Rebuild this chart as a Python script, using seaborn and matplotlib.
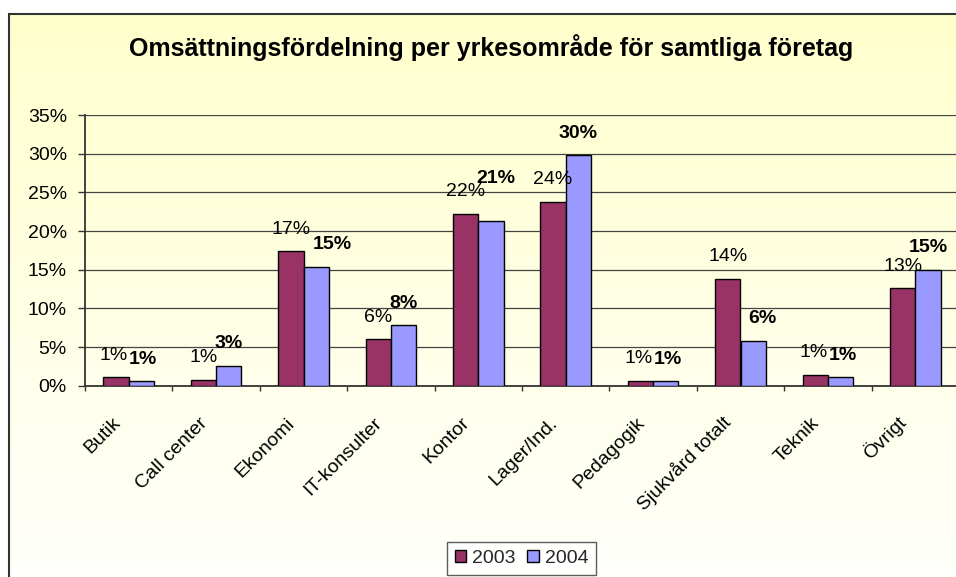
import numpy as np
import pandas as pd
import matplotlib
matplotlib.use("Agg")
import matplotlib.pyplot as plt
from matplotlib.patches import Rectangle
from matplotlib.ticker import FuncFormatter, MultipleLocator, FixedLocator
from matplotlib.transforms import ScaledTranslation
import seaborn as sns

categories = ["Butik", "Call center", "Ekonomi", "IT-konsulter", "Kontor",
              "Lager/Ind.", "Pedagogik", "Sjukvård totalt", "Teknik", "Övrigt"]
values_2003 = [1.1, 0.8, 17.4, 6.0, 22.2, 23.8, 0.65, 13.8, 1.4, 12.6]
values_2004 = [0.6, 2.6, 15.4, 7.8, 21.3, 29.8, 0.55, 5.8, 1.1, 15.0]
series = ["2003", "2004"]
colors = ["#993366", "#9999FF"]
title = "Omsättningsfördelning per yrkesområde för samtliga företag"

# manual label nudges (pixels) as in the reference, to avoid overlaps
label_nudge = {("2004", "Ekonomi"): (16, 0), ("2004", "Kontor"): (5, 20),
               ("2004", "Sjukvård totalt"): (9, 0),
               ("2003", "Butik"): (-2, 0), ("2004", "Butik"): (2, 0),
               ("2003", "Pedagogik"): (-2, 0), ("2004", "Pedagogik"): (2, 0),
               ("2003", "Teknik"): (-2, 0), ("2004", "Teknik"): (2, 0)}

df = pd.DataFrame({
    "cat": categories * 2,
    "val": values_2003 + values_2004,
    "year": [series[0]] * len(categories) + [series[1]] * len(categories),
})

sns.set_theme(style="white")
plt.rcParams["font.family"] = ["Liberation Sans", "DejaVu Sans"]

W, H = 956, 577
PX = 72 / 100  # points per pixel
fig = plt.figure(figsize=(W / 100, H / 100), dpi=100)
fig.patch.set_facecolor("white")

# chart-area background gradient + frame
bg = fig.add_axes([9 / W, 0, 1 - 9 / W, 1 - 14 / H], zorder=-5)
grad = np.linspace(0, 1, 256)[:, None]
top = np.array([255, 255, 204]) / 255
bot = np.array([255, 255, 252]) / 255
img = top[None, None, :] * (1 - grad[..., None]) + bot[None, None, :] * grad[..., None]
bg.imshow(img, aspect="auto", extent=[0, 1, 0, 1])
bg.set_axis_off()
fig.add_artist(Rectangle((9 / W, -0.1), 1.2, 1 - 14 / H + 0.1, transform=fig.transFigure,
                         fill=False, edgecolor="#333333", linewidth=1.5, zorder=-4))

ax = fig.add_axes([85 / W, 191.3 / H, 874 / W, 270.7 / H])
ax.set_facecolor("none")

sns.barplot(data=df, x="cat", y="val", hue="year", palette=colors, ax=ax,
            width=0.58, edgecolor="black", linewidth=1.0, saturation=1, zorder=3)

ax.set_ylim(0, 35)
ax.set_xlim(-0.5, len(categories) - 0.5)
ax.yaxis.set_major_locator(MultipleLocator(5))
ax.yaxis.set_major_formatter(FuncFormatter(lambda v, p: f"{v:.0f}%"))
ax.grid(axis="y", color="#444444", linewidth=0.9, zorder=0)
ax.set_axisbelow(True)
ax.set_xlabel("")
ax.set_ylabel("")

for s in ["top", "right"]:
    ax.spines[s].set_visible(False)
for s in ["left", "bottom"]:
    ax.spines[s].set_color("#333333")
    ax.spines[s].set_linewidth(1.3)

ax.tick_params(axis="y", which="major", left=True, length=7 * PX, width=1, color="#333333",
               labelsize=14, pad=8, labelcolor="black")
ax.set_xticks(range(len(categories)))
ax.set_xticklabels(categories, rotation=45, ha="right", va="baseline",
                   rotation_mode="anchor", fontsize=14, color="black")
ax.tick_params(axis="x", which="major", length=0, pad=38 * PX)
shift = ScaledTranslation(-8 / 100, 0, fig.dpi_scale_trans)
for lbl in ax.get_xticklabels():
    lbl.set_transform(lbl.get_transform() + shift)
ax.xaxis.set_minor_locator(FixedLocator(np.arange(-0.5, len(categories), 1.0)))
ax.tick_params(axis="x", which="minor", bottom=True, length=5 * PX, width=1, color="#333333")

for cont, year, weight in zip(ax.containers, series, ["normal", "bold"]):
    for bar, cat in zip(cont, categories):
        h = bar.get_height()
        dx, dy = label_nudge.get((year, cat), (0, 0))
        ax.annotate(f"{h:.0f}%", xy=(bar.get_x() + bar.get_width() / 2, h),
                    xytext=(dx * PX, (22 + dy) * PX), textcoords="offset points",
                    ha="center", va="center", fontsize=14, fontweight=weight,
                    color="black", annotation_clip=False, zorder=5)

leg = ax.legend(loc="upper center", bbox_to_anchor=(521.5 / W, 35 / H),
                bbox_transform=fig.transFigure, ncol=2, fontsize=14, frameon=True,
                fancybox=False, edgecolor="#333333", handlelength=0.6, handleheight=0.6,
                handletextpad=0.3, columnspacing=0.6, borderpad=0.4, borderaxespad=0)
leg.get_frame().set_facecolor("white")
leg.get_frame().set_linewidth(1.0)
for h in leg.legend_handles:
    h.set_edgecolor("black")
    h.set_linewidth(1.0)

fig.text(491 / W, 1 - 48 / H, title, ha="center", va="center",
         fontsize=18, fontweight="bold", color="black")

fig.savefig("out.png", dpi=100, facecolor=fig.get_facecolor())
